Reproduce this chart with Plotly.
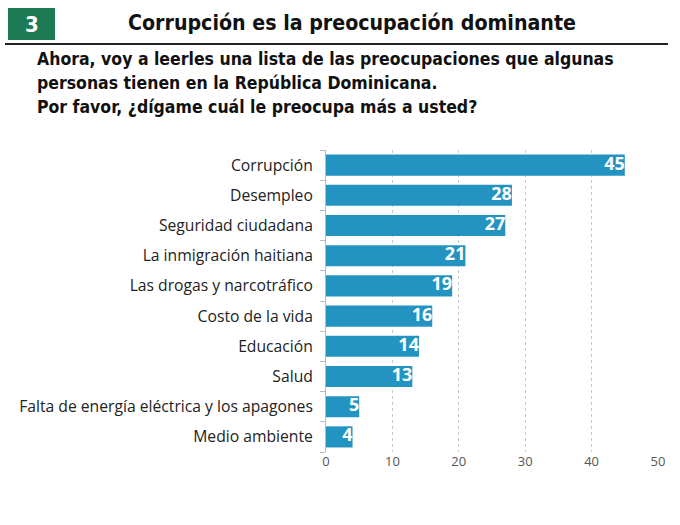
import plotly.graph_objects as go

categories = ["Corrupción", "Desempleo", "Seguridad ciudadana", "La inmigración haitiana",
              "Las drogas y narcotráfico", "Costo de la vida", "Educación", "Salud",
              "Falta de energía eléctrica y los apagones", "Medio ambiente"]
values = [45, 28, 27, 21, 19, 16, 14, 13, 5, 4]
x_ticks = [0, 10, 20, 30, 40, 50]

title_text = "Corrupción es la preocupación dominante"
subtitle_lines = ["Ahora, voy a leerles una lista de las preocupaciones que algunas",
                  "personas tienen en la República Dominicana.",
                  "Por favor, ¿dígame cuál le preocupa más a usted?"]
badge = "3"

W, H = 680, 525
L, R, T, B = 326, 658, 150, 452


def px(x):
    return (x - L) / (R - L)


def py(y):
    return (B - y) / (B - T)


BAR = "#2393c1"
COND = "DejaVu Sans Condensed"

fig = go.Figure()
fig.add_trace(go.Bar(
    y=categories, x=values, orientation="h",
    marker=dict(color=BAR, line=dict(width=0)),
    width=0.7, hoverinfo="x+y",
))
fig.add_trace(go.Scatter(
    y=categories, x=values, mode="text",
    text=[str(v) for v in values], textposition="middle left",
    textfont=dict(color="white", size=18, family="Open Sans", weight="bold"),
    hoverinfo="skip", cliponaxis=False,
))

fig.update_layout(
    width=W, height=H,
    margin=dict(l=L, r=W - R, t=T, b=H - B, autoexpand=False),
    paper_bgcolor="white", plot_bgcolor="white",
    showlegend=False,
    font=dict(family="Open Sans", color="#222"),
    xaxis=dict(range=[0, 50], tickvals=x_ticks, showgrid=True, gridcolor="#c8c8c8",
               griddash="3px,3px", gridwidth=1, zeroline=False, showline=False,
               tickfont=dict(size=13, color="#555"), ticks="", fixedrange=True,
               automargin=False),
    yaxis=dict(categoryorder="array", categoryarray=categories[::-1],
               showline=True, linecolor="#bbbbbb", linewidth=1,
               ticks="outside", tickson="boundaries", ticklen=5, tickcolor="#bbbbbb",
               tickfont=dict(size=15.7, color="#222"), ticklabelstandoff=9,
               showgrid=False, automargin=False, fixedrange=True),
    bargap=0.3,
)

# header badge
fig.add_shape(type="rect", xref="paper", yref="paper",
              x0=px(8), x1=px(55), y0=py(40), y1=py(8),
              fillcolor="#1c7b55", line=dict(width=0))
fig.add_annotation(xref="paper", yref="paper", x=px(31.5), y=py(24), text="<b>" + badge + "</b>",
                   showarrow=False, font=dict(family=COND, size=22, color="white"),
                   xanchor="center", yanchor="middle")
# title
fig.add_annotation(xref="paper", yref="paper", x=px(352), y=py(22), text="<b>" + title_text + "</b>",
                   showarrow=False, font=dict(family=COND, size=21.2, color="#111"),
                   xanchor="center", yanchor="middle")
# rule
fig.add_shape(type="line", xref="paper", yref="paper",
              x0=px(5), x1=px(668), y0=py(44), y1=py(44),
              line=dict(color="#222", width=2))
# subtitle
for i, line in enumerate(subtitle_lines):
    fig.add_annotation(xref="paper", yref="paper", x=px(35), y=py(59 + 24 * i),
                       text="<b>" + line + "</b>", showarrow=False,
                       font=dict(family=COND, size=17.5, color="#111"),
                       xanchor="left", yanchor="middle")

fig.write_html("out.html", config={"displayModeBar": False},
               post_script="document.body.style.margin='0';")
